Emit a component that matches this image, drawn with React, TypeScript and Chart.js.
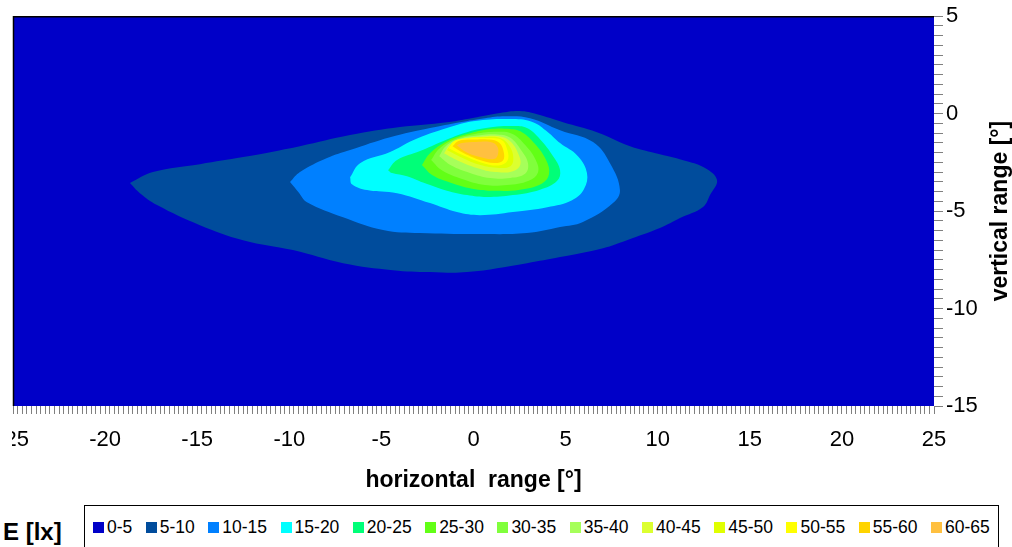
import React, { useEffect, useRef } from 'react';
import { Chart, registerables } from 'chart.js';

Chart.register(...registerables);

const FONT = '"Liberation Sans", Arial, Helvetica, sans-serif';

// axis ranges (degrees)
const xRange = [-25, 25];
const yRange = [-15, 5];
const xMajorStep = 5;
const yMajorStep = 5;
const xMinorStep = 0.25;
const yMinorStep = 0.5;

const xTitle = 'horizontal  range [°]';
const yTitle = 'vertical range [°]';
const legendTitle = 'E [lx]';

// illuminance bands
const bandLabels = ['0-5', '5-10', '10-15', '15-20', '20-25', '25-30', '30-35', '35-40', '40-45', '45-50', '50-55', '55-60', '60-65'];
const bandColors = ['#0000C8', '#004C9C', '#0080FF', '#00FFFF', '#00FF78', '#62FF16', '#80FF3C', '#A6FF5A', '#DCFF30', '#E0FF00', '#FFFF00', '#FFD400', '#FFC040'];

// iso-lux contours [horizontal°, vertical°]
const contour0 = [[-25, -15], [-25, 5], [25, 5], [25, -15]];
const contour5 = [[-18.65, -3.56], [-17.4, -3.0], [-14.85, -2.59], [-12.5, -2.23], [-9.42, -1.67], [-6.7, -1.1], [-3.99, -0.69], [-1.44, -0.44], [0.19, -0.18], [1.44, 0.03], [2.52, 0.13], [3.45, -0.03], [4.86, -0.44], [6.7, -0.95], [8.5, -1.67], [10.12, -2.08], [11.59, -2.44], [12.57, -2.79], [13.22, -3.41], [12.84, -4.18], [12.46, -4.79], [11.21, -5.36], [10.12, -5.87], [8.33, -6.49], [7.03, -6.9], [4.7, -7.36], [2.9, -7.67], [-0.35, -8.13], [-2.36, -8.13], [-4.37, -8.03], [-7.08, -7.67], [-9.8, -7.0], [-12.51, -6.49], [-14.85, -5.72], [-17.18, -4.69], [-18.11, -4.08]];
const contour10 = [[-9.96, -3.51], [-9.42, -3.0], [-7.95, -2.28], [-6.7, -1.87], [-4.53, -1.21], [-2.36, -0.74], [-0.73, -0.44], [0.62, -0.23], [1.71, -0.13], [3.07, -0.23], [4.7, -0.85], [6.49, -1.46], [7.41, -2.54], [7.95, -3.92], [7.57, -4.59], [5.94, -5.56], [4.7, -5.82], [2.9, -6.13], [0.19, -6.18], [-2.9, -6.13], [-4.91, -5.97], [-7.08, -5.31], [-9.04, -4.54], [-9.5, -4.03]];
const contour15 = [[-6.7, -3.26], [-6.16, -2.54], [-4.53, -1.97], [-3.28, -1.36], [-1.44, -0.74], [0.08, -0.38], [2.14, -0.28], [3.23, -0.44], [4.04, -0.95], [4.7, -1.51], [5.67, -2.18], [6.16, -3.05], [6.0, -3.87], [5.35, -4.44], [4.0, -4.8], [2.14, -5.05], [0.35, -5.21], [-0.9, -5.05], [-2.36, -4.59], [-4.15, -4.08], [-5.78, -3.92], [-6.6, -3.62]];
const contour20 = [[-4.64, -2.9], [-4.15, -2.38], [-2.9, -1.92], [-1.66, -1.41], [-0.35, -0.95], [1.06, -0.69], [2.14, -0.64], [2.9, -0.74], [3.61, -1.31], [4.32, -2.18], [4.7, -2.9], [4.53, -3.46], [3.61, -3.9], [2.14, -4.18], [0.73, -4.28], [-0.35, -4.18], [-1.44, -3.95], [-2.74, -3.53], [-3.61, -3.21], [-4.42, -3.05]];
const contour25 = [[-2.8, -2.64], [-2.36, -2.03], [-1.44, -1.41], [-0.35, -1.05], [0.9, -0.79], [1.98, -0.79], [2.63, -0.95], [3.34, -1.56], [3.94, -2.38], [4.1, -3.1], [3.72, -3.58], [2.52, -3.9], [1.17, -3.96], [-0.08, -3.85], [-1.28, -3.53], [-2.25, -3.15]];
const contour30 = [[-2.3, -2.38], [-1.86, -1.8], [-1.0, -1.3], [0.08, -1.04], [1.28, -0.93], [2.09, -1.03], [2.82, -1.62], [3.38, -2.38], [3.5, -3.02], [3.0, -3.44], [1.82, -3.66], [0.62, -3.66], [-0.62, -3.35], [-1.7, -2.92]];
const contour35 = [[-1.86, -2.18], [-1.48, -1.65], [-0.73, -1.28], [0.24, -1.12], [1.33, -1.07], [2.0, -1.24], [2.58, -1.87], [2.96, -2.56], [2.8, -3.09], [2.0, -3.3], [0.9, -3.3], [-0.19, -3.04], [-1.2, -2.66]];
const contour40 = [[-1.6, -2.03], [-1.22, -1.54], [-0.46, -1.27], [0.46, -1.17], [1.46, -1.17], [2.02, -1.44], [2.42, -2.03], [2.54, -2.62], [2.14, -2.95], [1.17, -3.0], [0.19, -2.79], [-0.86, -2.4]];
const contour45 = [[-1.44, -1.87], [-1.06, -1.43], [-0.3, -1.26], [0.62, -1.2], [1.48, -1.26], [1.94, -1.65], [2.16, -2.24], [2.0, -2.7], [1.24, -2.77], [0.24, -2.6], [-0.76, -2.2]];
const contour50 = [[-1.34, -1.77], [-1.0, -1.38], [-0.19, -1.26], [0.79, -1.25], [1.54, -1.36], [1.84, -1.87], [1.84, -2.42], [1.36, -2.66], [0.41, -2.5], [-0.66, -2.1]];
const contour55 = [[-1.14, -1.67], [-0.82, -1.4], [-0.08, -1.33], [0.84, -1.33], [1.4, -1.49], [1.64, -1.97], [1.6, -2.4], [1.13, -2.53], [0.3, -2.36], [-0.59, -1.99]];
const contour60 = [[-0.9, -1.62], [-0.62, -1.51], [0.14, -1.46], [0.9, -1.46], [1.28, -1.67], [1.33, -2.08], [1.11, -2.33], [0.35, -2.23], [-0.41, -1.97]];

const contours = [contour0, contour5, contour10, contour15, contour20, contour25, contour30, contour35, contour40, contour45, contour50, contour55, contour60];

const frameBorder = {
  id: 'frameBorder',
  afterDatasetsDraw(chart: any) {
    const { ctx, chartArea } = chart;
    ctx.save();
    ctx.strokeStyle = '#000';
    ctx.lineWidth = 1.5;
    ctx.beginPath();
    ctx.moveTo(chartArea.left + 0.5, chartArea.bottom);
    ctx.lineTo(chartArea.left + 0.5, chartArea.top + 0.5);
    ctx.lineTo(chartArea.right, chartArea.top + 0.5);
    ctx.stroke();
    ctx.restore();
  },
};

const rightTitle = {
  id: 'rightTitle',
  afterDraw(chart: any) {
    const { ctx, chartArea } = chart;
    ctx.save();
    ctx.translate(1001, (chartArea.top + chartArea.bottom) / 2);
    ctx.rotate(-Math.PI / 2);
    ctx.font = 'bold 23px ' + FONT;
    ctx.fillStyle = '#000';
    ctx.textAlign = 'center';
    ctx.textBaseline = 'middle';
    ctx.fillText(yTitle, 0, 0);
    ctx.restore();
  },
};

export default function App() {
  const ref = useRef<HTMLCanvasElement | null>(null);

  useEffect(() => {
    if (!ref.current) return;
    const datasets = contours.map((pts, i) => ({
      type: 'scatter' as const,
      label: bandLabels[i],
      data: [...pts, pts[0]].map(([x, y]) => ({ x, y })),
      showLine: true,
      fill: 'shape',
      backgroundColor: bandColors[i],
      borderColor: bandColors[i],
      borderWidth: 0,
      pointRadius: 0,
      pointHoverRadius: 0,
      tension: i === 0 ? 0 : 0.4,
      order: contours.length - i,
    }));
    const tickCb = (step: number) => (v: any) => (Math.abs(Number(v) % step) < 1e-9 ? String(v) : '');
    const chart = new Chart(ref.current, {
      type: 'scatter',
      data: { datasets } as any,
      plugins: [frameBorder, rightTitle],
      options: {
        animation: false,
        responsive: false,
        layout: { padding: { top: 16, left: 13, right: 0, bottom: 0 } },
        plugins: { legend: { display: false }, tooltip: { enabled: false } },
        events: [],
        scales: {
          x: {
            type: 'linear',
            position: 'bottom',
            min: xRange[0],
            max: xRange[1],
            afterFit: (s: any) => {
              s.height = 94;
              s.paddingLeft = 0;
              s.paddingRight = 0;
            },
            ticks: {
              stepSize: xMinorStep,
              autoSkip: false,
              maxRotation: 0,
              minRotation: 0,
              padding: 13,
              color: '#000',
              font: { family: FONT, size: 22 },
              callback: tickCb(xMajorStep),
            },
            grid: { display: true, drawOnChartArea: false, drawTicks: true, tickLength: 8, color: '#808080', lineWidth: 1 },
            border: { display: false },
            title: { display: true, text: xTitle, color: '#000', font: { family: FONT, size: 23, weight: 'bold' }, padding: { top: 0, bottom: 6 } },
          },
          y: {
            type: 'linear',
            position: 'right',
            min: yRange[0],
            max: yRange[1],
            afterFit: (s: any) => {
              s.width = 78;
            },
            ticks: {
              stepSize: yMinorStep,
              autoSkip: false,
              padding: 3,
              color: '#000',
              font: { family: FONT, size: 22 },
              callback: tickCb(yMajorStep),
            },
            grid: { display: true, drawOnChartArea: false, drawTicks: true, tickLength: 9, color: '#808080', lineWidth: 1 },
            border: { display: false },
          },
        },
      } as any,
    });
    return () => chart.destroy();
  }, []);

  return (
    <div style={{ position: 'fixed', left: 0, top: 0, width: 1012, height: 547, overflow: 'hidden', background: '#fff' }}>
      <div style={{ position: 'absolute', left: 12, top: 0, width: 1000, height: 500, overflow: 'hidden' }}>
        <div style={{ position: 'absolute', left: -12, top: 0, width: 1012, height: 500 }}>
          <canvas ref={ref} width={1012} height={500} style={{ width: 1012, height: 500, display: 'block' }} />
        </div>
      </div>
      <div style={{ position: 'absolute', left: 3, top: 518, font: `bold 24px ${FONT}`, lineHeight: '28px', color: '#000', whiteSpace: 'nowrap' }}>{legendTitle}</div>
      <div style={{ position: 'absolute', left: 84, top: 505, width: 915, height: 70, border: '1px solid #000', boxSizing: 'border-box' }}>
        <div style={{ position: 'absolute', left: 8, top: 11, height: 20, display: 'flex', alignItems: 'center', gap: 13.5, whiteSpace: 'nowrap' }}>
          {bandLabels.map((lab, i) => (
            <div key={lab} style={{ display: 'flex', alignItems: 'center' }}>
              <span style={{ display: 'inline-block', width: 11, height: 11, background: bandColors[i], marginRight: 3 }} />
              <span style={{ font: `17.5px ${FONT}`, lineHeight: '20px', color: '#000' }}>{lab}</span>
            </div>
          ))}
        </div>
      </div>
    </div>
  );
}
